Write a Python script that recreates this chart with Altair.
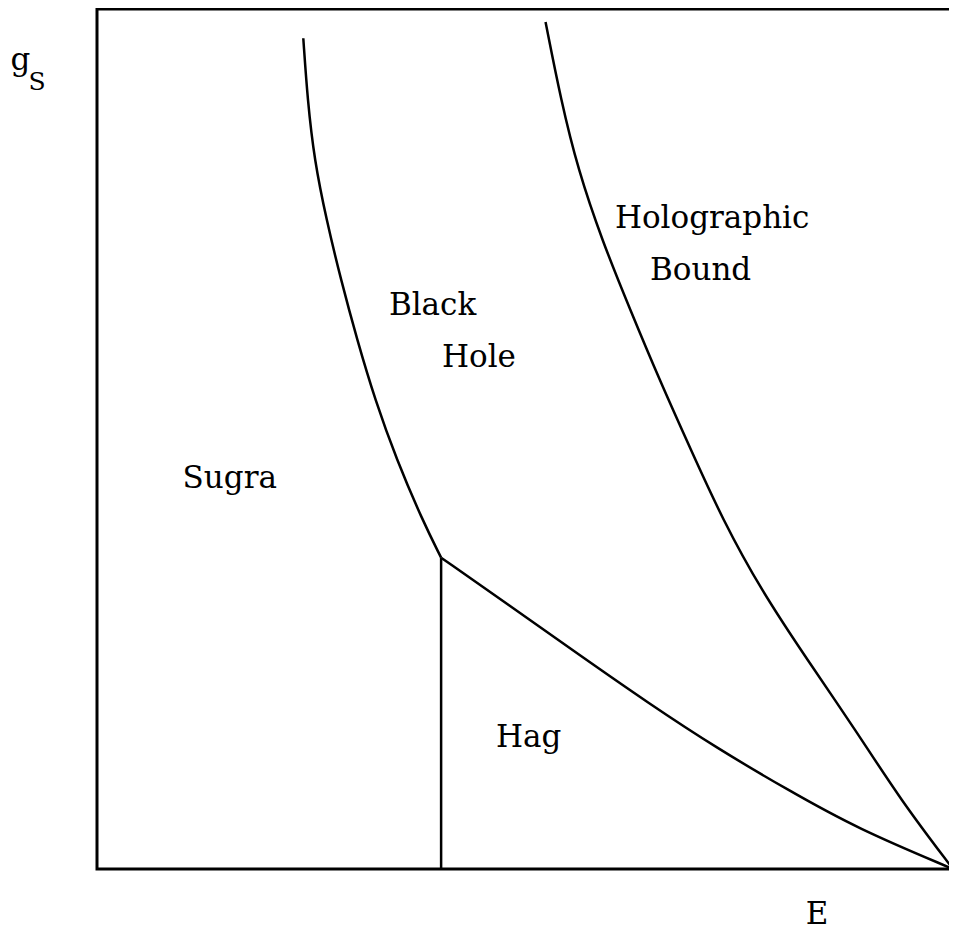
import altair as alt
import pandas as pd

# Black hole boundary (E, g_s)
bh_E = [0.241, 0.246, 0.254, 0.268, 0.285, 0.304, 0.325, 0.350, 0.380, 0.402]
bh_g = [0.966, 0.894, 0.824, 0.755, 0.685, 0.615, 0.545, 0.476, 0.406, 0.362]

# Holographic bound
hb_E = [0.524, 0.542, 0.562, 0.590, 0.623, 0.657, 0.694, 0.731, 0.776, 0.830, 0.886, 0.939, 1.000]
hb_g = [0.985, 0.894, 0.813, 0.731, 0.650, 0.569, 0.487, 0.406, 0.324, 0.243, 0.162, 0.080, 0.000]

# Hagedorn boundary
hag_E = [0.402, 0.481, 0.562, 0.644, 0.725, 0.807, 0.888, 1.000]
hag_g = [0.362, 0.307, 0.250, 0.193, 0.140, 0.092, 0.047, 0.000]

# Vertical separator
vert_E = [0.402]
vert_g0 = [0.0]
vert_g1 = [0.362]

# Region labels
lab_text = ["Sugra", "Black", "Hole", "Holographic", "Bound", "Hag"]
lab_E = [0.100, 0.341, 0.403, 0.605, 0.646, 0.466]
lab_g = [0.443, 0.644, 0.584, 0.745, 0.685, 0.142]

# Axis labels
ax_text = ["E", "g"]
ax_E = [0.828, -0.101]
ax_g = [-0.064, 0.929]
sub_text = ["S"]
sub_E = [-0.080]
sub_g = [0.906]

rows = []
for name, xs, ys in [("bh", bh_E, bh_g), ("hb", hb_E, hb_g), ("hag", hag_E, hag_g)]:
    for i, (x, y) in enumerate(zip(xs, ys)):
        rows.append({"curve": name, "i": i, "E": x, "g": y})
curves = pd.DataFrame(rows)
vert = pd.DataFrame({"E": vert_E, "g0": vert_g0, "g1": vert_g1})
labels = pd.DataFrame({"t": lab_text, "E": lab_E, "g": lab_g})
axlab = pd.DataFrame({"t": ax_text, "E": ax_E, "g": ax_g})
sublab = pd.DataFrame({"t": sub_text, "E": sub_E, "g": sub_g})

xs = alt.Scale(domain=[0, 1], nice=False, zero=False)
ys = alt.Scale(domain=[0, 1], nice=False, zero=False)

lines = alt.Chart(curves).mark_line(
    color="black", strokeWidth=2.5, interpolate="basis", clip=True
).encode(
    x=alt.X("E:Q", scale=xs, axis=None),
    y=alt.Y("g:Q", scale=ys, axis=None),
    detail="curve:N",
    order="i:Q",
)

vline = alt.Chart(vert).mark_rule(color="black", strokeWidth=2.5).encode(
    x=alt.X("E:Q", scale=xs, axis=None),
    y=alt.Y("g0:Q", scale=ys, axis=None),
    y2="g1:Q",
)

font = "DejaVu Serif"
text = alt.Chart(labels).mark_text(
    font=font, fontSize=31, align="left", baseline="alphabetic", color="black"
).encode(
    x=alt.X("E:Q", scale=xs, axis=None),
    y=alt.Y("g:Q", scale=ys, axis=None),
    text="t:N",
)

axtext = alt.Chart(axlab).mark_text(
    font=font, fontSize=31, align="left", baseline="alphabetic", color="black", clip=False
).encode(
    x=alt.X("E:Q", scale=xs, axis=None),
    y=alt.Y("g:Q", scale=ys, axis=None),
    text="t:N",
)

subtext = alt.Chart(sublab).mark_text(
    font=font, fontSize=25, align="left", baseline="alphabetic", color="black", clip=False
).encode(
    x=alt.X("E:Q", scale=xs, axis=None),
    y=alt.Y("g:Q", scale=ys, axis=None),
    text="t:N",
)

chart = alt.layer(lines, vline, text, axtext, subtext).properties(
    width=856,
    height=860,
    autosize=alt.AutoSizeParams(type="none"),
    padding={"left": 89, "top": 1, "right": -4, "bottom": 66},
).configure_view(stroke="black", strokeWidth=3)

chart.save("out.html", embed_options={"renderer": "svg", "actions": False})
